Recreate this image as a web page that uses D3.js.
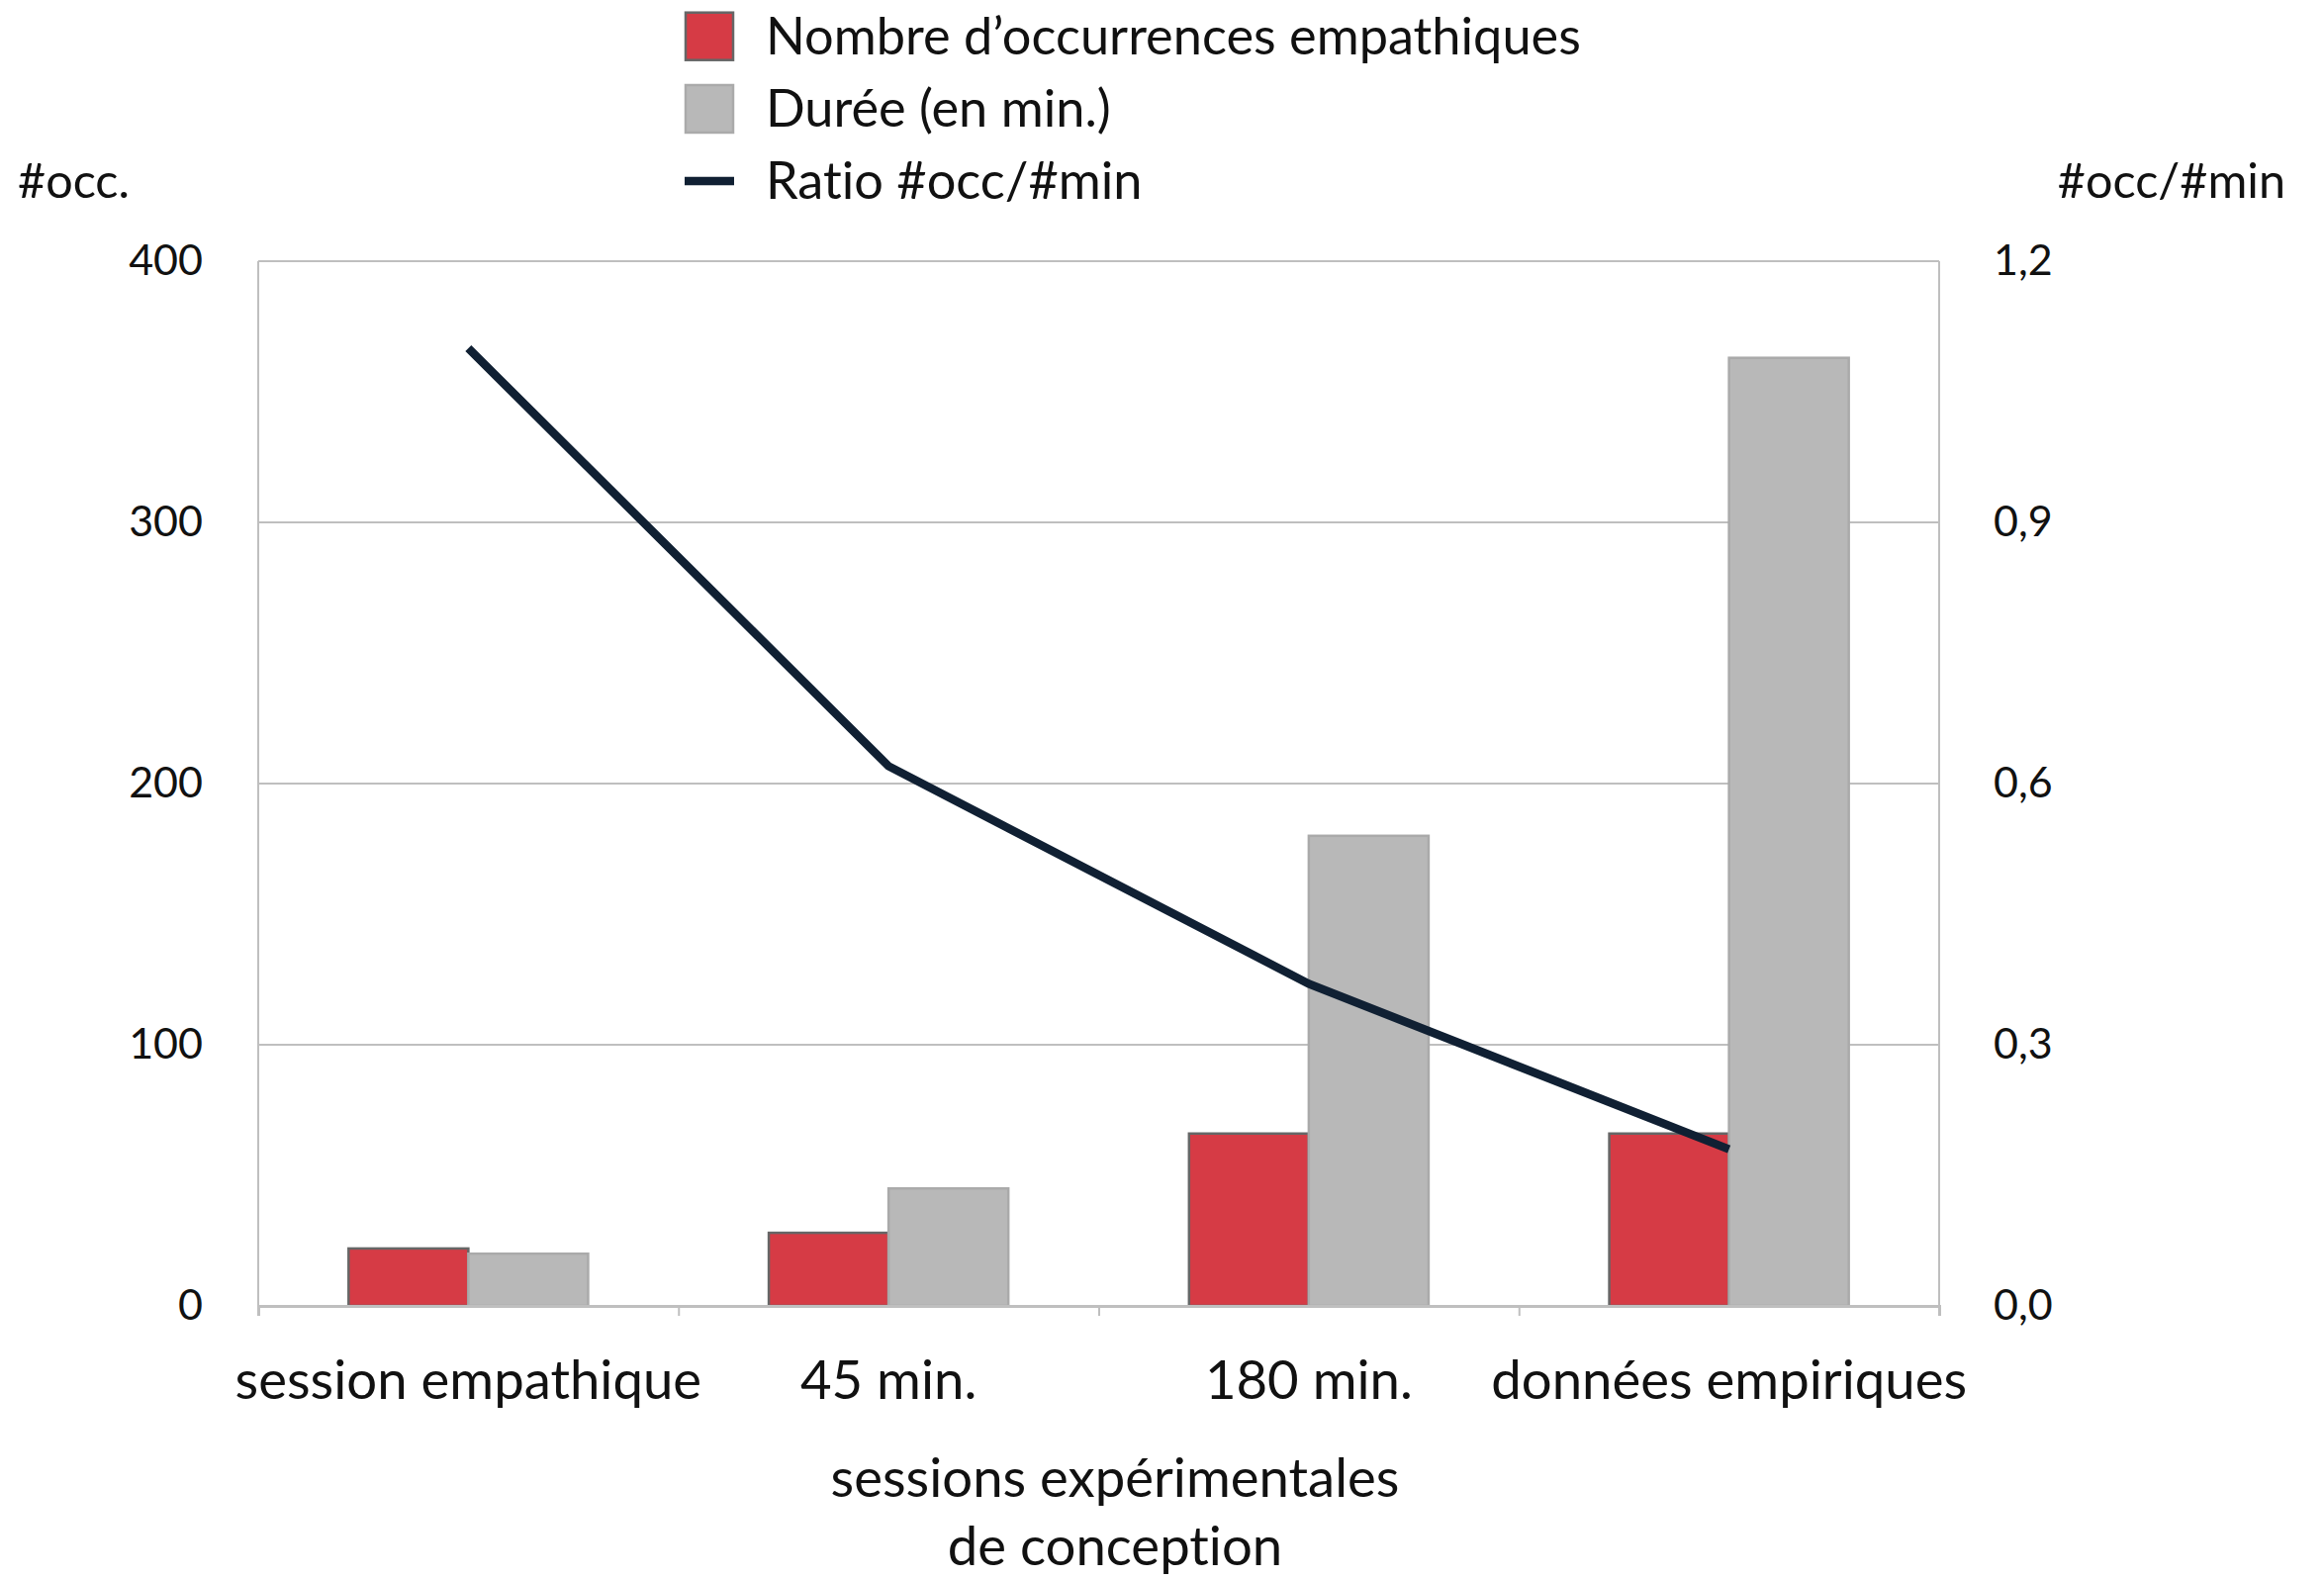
<!DOCTYPE html>
<html><head><meta charset="utf-8">
<script src="https://cdn.jsdelivr.net/npm/d3@7"></script>
<style>html,body{margin:0;padding:0;background:#fff;}svg text{font-family:Lato,"Open Sans",sans-serif;fill:#111;font-variant-ligatures:none;font-feature-settings:"liga" 0;}</style>
</head><body><svg id="c" width="2349" height="1596"></svg>
<script>
const categories = ["session empathique", "45 min.", "180 min.", "données empiriques"];
const occurrences = [22, 28, 66, 66];
const durations = [20, 45, 180, 363];
const ratios = [1.10, 0.62, 0.37, 0.18];
const leftTicks = [0, 100, 200, 300, 400];
const rightTicks = [0, 0.3, 0.6, 0.9, 1.2];
const seriesNames = ["Nombre d\u2019occurrences empathiques", "Durée (en min.)", "Ratio #occ/#min"];

const W = 2349, H = 1596;
const L = 261, R = 1960, T = 264, B = 1320;
const FS_LEG = 52.3, FS_X = 54.5, FS_TITLE = 48.5, FS_TICK = 43;
const svg = d3.select("#c");

const x = d3.scaleBand().domain(categories).range([L, R]).paddingInner(0.43).paddingOuter(0.215);
const xs = d3.scaleBand().domain(["occ", "dur"]).range([0, x.bandwidth()]);
const yL = d3.scaleLinear().domain([0, 400]).range([B, T]);
const yR = d3.scaleLinear().domain([0, 1.2]).range([B, T]);
const grid = "#bfbfbf";

// gridlines
svg.append("g").selectAll("line").data(leftTicks.filter(d => d > 0)).join("line")
  .attr("x1", L).attr("x2", R).attr("y1", d => yL(d)).attr("y2", d => yL(d))
  .attr("stroke", grid).attr("stroke-width", 2);
// side frame lines
svg.append("line").attr("x1", L).attr("x2", L).attr("y1", T).attr("y2", B).attr("stroke", grid).attr("stroke-width", 2);
svg.append("line").attr("x1", R).attr("x2", R).attr("y1", T).attr("y2", B).attr("stroke", grid).attr("stroke-width", 2);

// bars
const groups = svg.append("g").selectAll("g").data(categories).join("g")
  .attr("transform", d => `translate(${x(d)},0)`);
groups.append("rect")
  .attr("x", xs("occ")).attr("width", xs.bandwidth())
  .attr("y", (d, i) => yL(occurrences[i])).attr("height", (d, i) => B - yL(occurrences[i]))
  .attr("fill", "#d63b45").attr("stroke", "#666").attr("stroke-width", 2.5);
groups.append("rect")
  .attr("x", xs("dur")).attr("width", xs.bandwidth())
  .attr("y", (d, i) => yL(durations[i])).attr("height", (d, i) => B - yL(durations[i]))
  .attr("fill", "#b8b8b8").attr("stroke", "#aaaaaa").attr("stroke-width", 2.5);

// baseline and x axis ticks
const xAxis = d3.axisBottom(d3.scalePoint().domain(d3.range(5)).range([L, R])).tickSize(10).tickFormat("");
const gx = svg.append("g").attr("transform", `translate(0,${B})`).call(xAxis);
gx.select(".domain").attr("stroke", grid).attr("stroke-width", 3);
gx.selectAll(".tick line").attr("stroke", grid).attr("stroke-width", 2);

// left axis labels
const gl = svg.append("g").attr("transform", `translate(${L},0)`)
  .call(d3.axisLeft(yL).tickValues(leftTicks).tickSize(0).tickPadding(56).tickFormat(d3.format("d")));
gl.select(".domain").remove();
gl.selectAll("text").attr("font-size", FS_TICK).attr("font-family", "Lato").attr("fill", "#111");

// right axis labels
const fr = d => d.toFixed(1).replace(".", ",");
const gr = svg.append("g").attr("transform", `translate(${R},0)`)
  .call(d3.axisRight(yR).tickValues(rightTicks).tickSize(0).tickPadding(55).tickFormat(fr));
gr.select(".domain").remove();
gr.selectAll("text").attr("font-size", FS_TICK).attr("font-family", "Lato").attr("fill", "#111");

// ratio line
const line = d3.line().x((d, i) => x(categories[i]) + x.bandwidth() / 2).y(d => yR(d));
svg.append("path").datum(ratios).attr("d", line)
  .attr("fill", "none").attr("stroke", "#102033").attr("stroke-width", 8.5).attr("stroke-linejoin", "miter");

// x category labels
svg.append("g").selectAll("text").data(categories).join("text")
  .attr("x", d => x(d) + x.bandwidth() / 2).attr("y", 1395).attr("dy", "0.35em")
  .attr("text-anchor", "middle").attr("font-size", FS_X).text(d => d);

// x axis title
svg.append("text").attr("x", 1127).attr("y", 1494).attr("dy", "0.35em").attr("text-anchor", "middle").attr("font-size", FS_X).text("sessions expérimentales");
svg.append("text").attr("x", 1127).attr("y", 1563).attr("dy", "0.35em").attr("text-anchor", "middle").attr("font-size", FS_X).text("de conception");

// y axis titles
svg.append("text").attr("x", 18).attr("y", 183).attr("dy", "0.35em").attr("font-size", FS_TITLE).text("#occ.");
svg.append("text").attr("x", 2310).attr("y", 183).attr("dy", "0.35em").attr("text-anchor", "end").attr("font-size", FS_TITLE).text("#occ/#min");

// legend
const legY = [36.7, 110, 183];
const lg = svg.append("g");
lg.append("rect").attr("x", 693).attr("y", legY[0] - 24).attr("width", 48).attr("height", 48)
  .attr("fill", "#d63b45").attr("stroke", "#666").attr("stroke-width", 2.5);
lg.append("rect").attr("x", 693).attr("y", legY[1] - 24).attr("width", 48).attr("height", 48)
  .attr("fill", "#b8b8b8").attr("stroke", "#aaaaaa").attr("stroke-width", 2.5);
lg.append("line").attr("x1", 692).attr("x2", 742).attr("y1", legY[2]).attr("y2", legY[2])
  .attr("stroke", "#102033").attr("stroke-width", 8.5);
lg.selectAll("text").data(seriesNames).join("text")
  .attr("x", 774).attr("y", (d, i) => legY[i]).attr("dy", "0.35em").attr("font-size", FS_LEG).text(d => d);
</script></body></html>
